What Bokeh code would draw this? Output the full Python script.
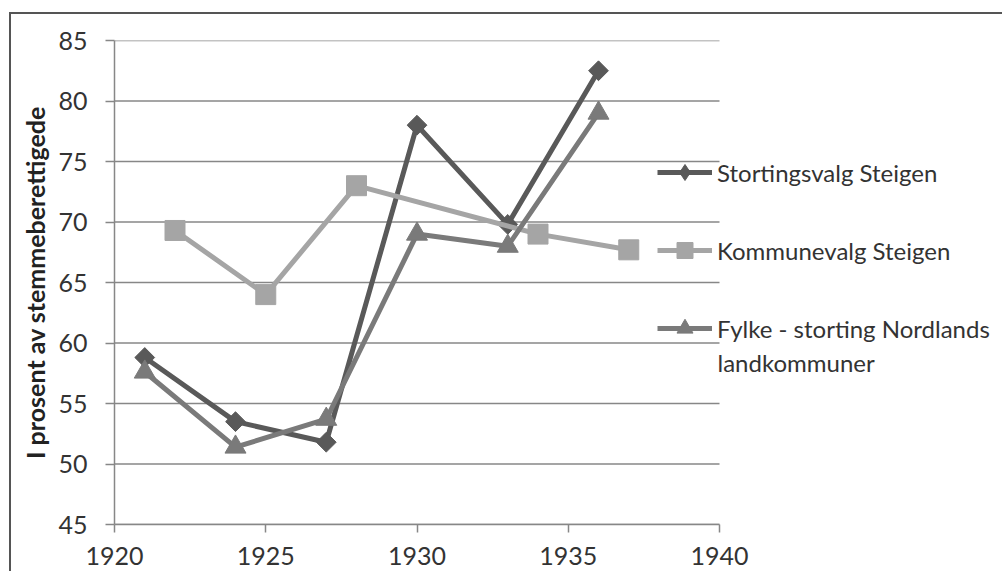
import numpy as np
from bokeh.plotting import figure
from bokeh.models import Legend, LegendItem, FixedTicker, Range1d, Label
from bokeh.embed import file_html
from bokeh.resources import INLINE

# ---- data ----
years_storting = [1921, 1924, 1927, 1930, 1933, 1936]
storting_steigen = [58.8, 53.5, 51.8, 78.0, 69.8, 82.5]

years_kommune = [1922, 1925, 1928, 1934, 1937]
kommune_steigen = [69.3, 64.0, 73.0, 69.0, 67.7]

years_fylke = [1921, 1924, 1927, 1930, 1933, 1936]
fylke_nordland = [57.6, 51.4, 53.7, 69.0, 68.0, 79.0]

series_names = [
    "Stortingsvalg Steigen",
    "Kommunevalg Steigen",
    ["Fylke - storting Nordlands", "landkommuner"],   # wrapped over two lines
]
x_ticks = [1920, 1925, 1930, 1935, 1940]
y_ticks = [45, 50, 55, 60, 65, 70, 75, 80, 85]
y_title = "I prosent av stemmeberettigede"

# ---- styling ----
FONT = "Lato"
TEXT = "#333333"
GRID = "#878787"
C_DARK = "#595959"
C_LIGHT = "#a5a5a5"
C_MID = "#7a7a7a"

AXIS_PX = 605            # pixel width of the 1920-1940 axis
FRAME_W = 884            # frame also holds the legend on the right
FRAME_H = 484
x_start, x_stop = x_ticks[0], x_ticks[-1]
x_end = x_start + FRAME_W * (x_stop - x_start) / AXIS_PX

p = figure(
    frame_width=FRAME_W, frame_height=FRAME_H,
    x_range=Range1d(x_start, x_end), y_range=Range1d(y_ticks[0], y_ticks[-1]),
    output_backend="svg", toolbar_location=None,
    min_border_left=103, min_border_right=4,
    min_border_top=26, min_border_bottom=47,
)
p.styles = {
    "margin-left": "9px", "margin-top": "12px",
    "border-top": "2px solid #555555", "border-left": "2px solid #555555",
}
p.outline_line_color = None
p.background_fill_color = "white"
p.border_fill_color = "white"

# grid: horizontal lines only across the 1920-1940 span
p.xgrid.grid_line_color = None
p.ygrid.grid_line_color = None
p.segment(x0=[x_start] * len(y_ticks), y0=y_ticks,
          x1=[x_stop] * len(y_ticks), y1=y_ticks,
          line_color=GRID, line_width=1.5)

# axes
for ax in (p.xaxis[0], p.yaxis[0]):
    ax.axis_line_color = GRID
    ax.axis_line_width = 1.5
    ax.major_tick_line_color = GRID
    ax.major_tick_line_width = 1.5
    ax.major_tick_in = 0
    ax.minor_tick_line_color = None
    ax.major_label_text_font = FONT
    ax.major_label_text_font_size = "25px"
    ax.major_label_text_color = TEXT

p.xaxis.ticker = FixedTicker(ticks=x_ticks)
p.xaxis.bounds = (x_start, x_stop)
p.xaxis.major_tick_out = 8
p.xaxis.major_label_standoff = 14

p.yaxis.ticker = FixedTicker(ticks=y_ticks)
p.yaxis.major_tick_out = 9
p.yaxis.major_label_standoff = 18
p.yaxis.axis_label = y_title
p.yaxis.axis_label_text_font = FONT
p.yaxis.axis_label_text_font_style = "bold"
p.yaxis.axis_label_text_font_size = "25px"
p.yaxis.axis_label_text_color = "#222222"
p.yaxis.axis_label_standoff = 5

# series (Excel order: first drawn first)
l1 = p.line(years_storting, storting_steigen, line_color=C_DARK, line_width=5)
m1 = p.scatter(years_storting, storting_steigen, marker="square", angle=np.pi / 4,
               size=14, fill_color=C_DARK, line_color=C_DARK)
# legend-only diamond (legend markers ignore angle); NaN point is not drawn
k1 = p.scatter(x=[np.nan], y=[np.nan], marker="diamond",
               fill_color=C_DARK, line_color=C_DARK)
l2 = p.line(years_kommune, kommune_steigen, line_color=C_LIGHT, line_width=5)
m2 = p.scatter(years_kommune, kommune_steigen, marker="square",
               size=20, fill_color=C_LIGHT, line_color=C_LIGHT)
l3 = p.line(years_fylke, fylke_nordland, line_color=C_MID, line_width=5)
m3 = p.scatter(years_fylke, fylke_nordland, marker="triangle",
               size=21, fill_color=C_MID, line_color=C_MID)

# legend placement (screen px from the frame's bottom-left)
LEG_X, LEG_Y = 543, 176
GLYPH_W, ITEM_H, STANDOFF, SPACING = 55, 40, 5, 38
LEG_FONT = "24px"

legend = Legend(
    items=[
        LegendItem(label=series_names[0], renderers=[l1, k1]),
        LegendItem(label=series_names[1], renderers=[l2, m2]),
        LegendItem(label=series_names[2][0], renderers=[l3, m3]),
    ],
    location=(LEG_X, LEG_Y),
    orientation="vertical",
    glyph_width=GLYPH_W, glyph_height=ITEM_H, label_height=ITEM_H,
    label_standoff=STANDOFF, spacing=SPACING, padding=0, margin=0,
    border_line_color=None, background_fill_alpha=0,
    label_text_font=FONT, label_text_font_size=LEG_FONT, label_text_color=TEXT,
)
p.add_layout(legend, "center")

# second line of the wrapped third legend label
p.add_layout(Label(
    x=LEG_X + GLYPH_W + STANDOFF, y=LEG_Y + ITEM_H / 2 - 34,
    x_units="screen", y_units="screen",
    text=series_names[2][1], text_baseline="middle", text_align="left",
    text_font=FONT, text_font_size=LEG_FONT, text_color=TEXT,
))

open("out.html", "w").write(file_html(p, INLINE))
